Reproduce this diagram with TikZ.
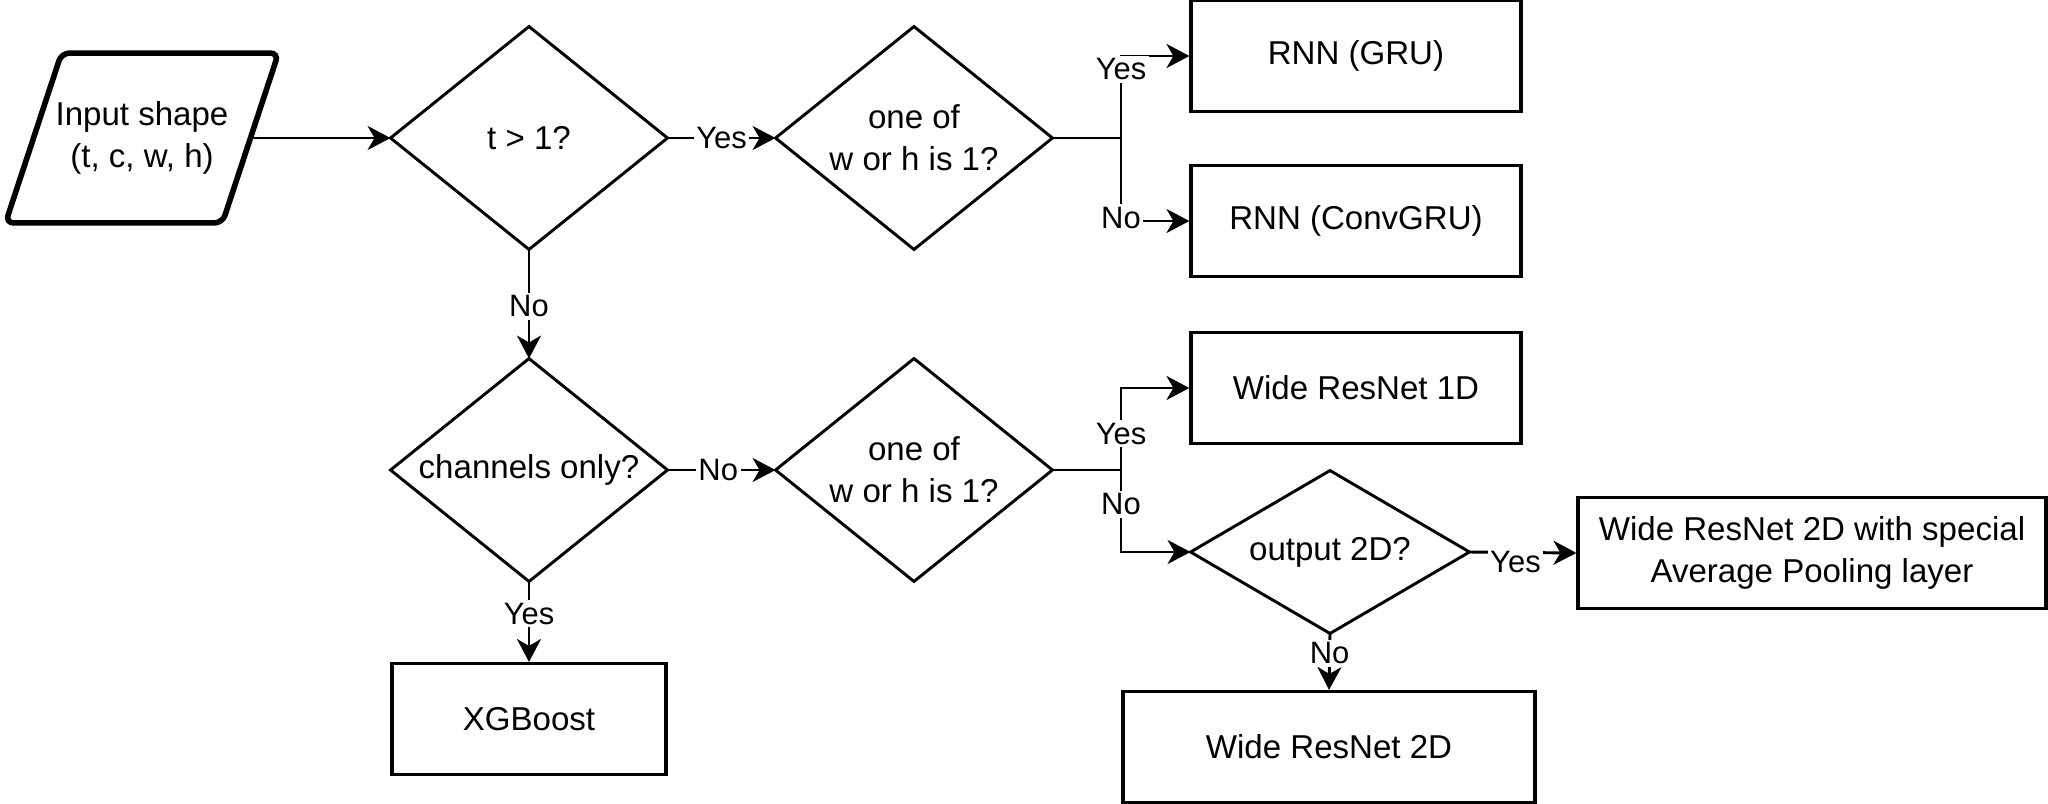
\documentclass[tikz,border=0pt]{standalone}
\usepackage{fontspec}
\setmainfont{Liberation Sans}
\usetikzlibrary{arrows.meta,calc}
\begin{document}
\begin{tikzpicture}[x=0.375pt,y=-0.375pt,
  line width=1.1pt,
  every node/.style={font=\fontsize{12.4}{15.7}\selectfont, align=center, inner sep=0pt},
  boxnode/.style={draw, line width=1.2pt, minimum height=41.6pt},
  decnode/.style={minimum width=102.75pt, minimum height=82.5pt},
  lbl/.style={fill=white, inner sep=1pt, font=\fontsize{11.6}{14}\selectfont},
  arr/.style={-{Stealth[length=8.6pt,width=9pt,inset=2.6pt]}},
  dia/.style={line width=1.1pt, line join=miter}]
\useasboundingbox (0,0) rectangle (2048,803);

% input parallelogram
\node[minimum width=80.25pt, minimum height=62.6pt] (p) at (142,138) {Input shape\\(t, c, w, h)};
\draw[line width=2.1pt, rounded corners=3pt]
  ($(p.north west)+(28,0)$) -- ($(p.north east)+(28,0)$) --
  ($(p.south east)+(-28,0)$) -- ($(p.south west)+(-28,0)$) -- cycle;

% decisions
\node[decnode] (d1) at (529,138) {t > 1?};
\node[decnode] (d2) at (914,138) {one of\\w or h is 1?};
\node[decnode] (d3) at (529,470) {channels only?};
\node[decnode] (d4) at (914,470) {one of\\w or h is 1?};
\node[minimum width=103.5pt, minimum height=60pt] (d5) at (1330,552) {output 2D?};
\foreach \d in {d1,d2,d3,d4,d5}
  \draw[dia] (\d.north) -- (\d.east) -- (\d.south) -- (\d.west) -- cycle;

% result boxes
\node[boxnode, minimum width=123.75pt] (r1) at (1356,56) {RNN (GRU)};
\node[boxnode, minimum width=123.75pt] (r2) at (1356,221) {RNN (ConvGRU)};
\node[boxnode, minimum width=123.75pt] (w1) at (1356,388) {Wide ResNet 1D};
\node[boxnode, minimum width=175.5pt] (big) at (1812,553) {Wide ResNet 2D with special\\Average Pooling layer};
\node[boxnode, minimum width=154.5pt] (w2) at (1329,747) {Wide ResNet 2D};
\node[boxnode, minimum width=102.75pt] (xgb) at (529,719) {XGBoost};

% junctions
\coordinate (j1) at (1121,138);
\coordinate (j2) at (1121,470);

% connectors
\draw[arr] (p.east) -- (d1.west);
\draw[arr] (d1.east) -- node[lbl]{Yes} (d2.west);
\draw (d2.east) -- (j1);
\draw[arr] (j1) |- node[lbl, pos=0.42]{Yes} (r1.west);
\draw[arr] (j1) |- node[lbl, pos=0.48]{No} (r2.west);
\draw[arr] (d1.south) -- node[lbl, pos=0.52]{No} (d3.north);
\draw[arr] (d3.south) -- node[lbl, pos=0.4]{Yes} (xgb.north);
\draw[arr] (d3.east) -- node[lbl, pos=0.47]{No} (d4.west);
\draw (d4.east) -- (j2);
\draw[arr] (j2) |- node[lbl, pos=0.22]{Yes} (w1.west);
\draw[arr] (j2) |- node[lbl, pos=0.21]{No} (d5.west);
\draw[arr] (d5.east) -- node[lbl, pos=0.43, yshift=-3.5pt]{Yes} (big.west);
\draw[arr] (d5.south) -- node[lbl, pos=0.35]{No} (w2.north);
\end{tikzpicture}
\end{document}
